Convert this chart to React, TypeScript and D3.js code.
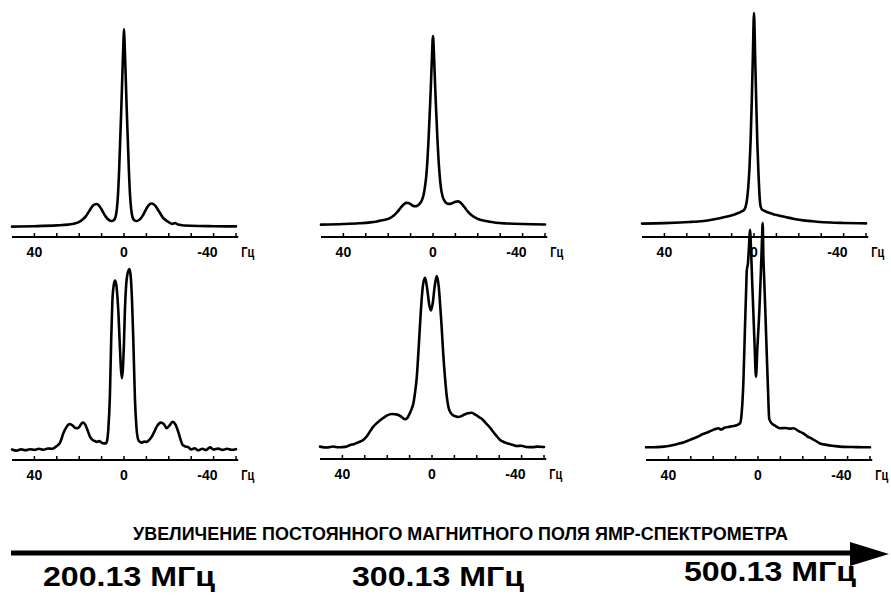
import React from 'react';
import * as d3 from 'd3';

// ---- axis ----
const tickValues = [40, 30, 20, 10, 0, -10, -20, -30, -40, -50];
const labelValues = [40, 0, -40];
const unitLabel = 'Гц';
const title = 'УВЕЛИЧЕНИЕ ПОСТОЯННОГО МАГНИТНОГО ПОЛЯ ЯМР-СПЕКТРОМЕТРА';
const fieldLabels = ['200.13 МГц', '300.13 МГц', '500.13 МГц'];

// ---- spectra: [Hz, relative intensity %] ----
const spec200a: [number, number][] = [
  [50, 0.2], [40, 0.4], [30, 0.8], [25, 1.2], [22, 1.8], [20, 2.6], [18.5, 3.8], [17, 5.5], [16, 7.2], [15, 9],
  [14, 10.6], [13, 11.4], [12.3, 11.6], [11.5, 11.2], [10.5, 9.8], [9.5, 7.8], [8.5, 5.8], [7.5, 4.3], [6.5, 3.4],
  [5.5, 3.0], [4.5, 3.5], [3.8, 5], [3.2, 9], [2.7, 16], [2.2, 28], [1.7, 44], [1.2, 60], [0.7, 78], [0.3, 92], [0, 100],
  [-0.3, 92], [-0.7, 78], [-1.2, 60], [-1.7, 44], [-2.2, 28], [-2.7, 16], [-3.2, 9], [-3.8, 5], [-4.5, 3.5], [-5.5, 3.0],
  [-6.5, 3.4], [-7.5, 4.4], [-8.5, 6], [-9.5, 8.2], [-10.5, 10.2], [-11.5, 11.6], [-12.4, 11.9], [-13.2, 11.5],
  [-14.2, 10.4], [-15.2, 8.6], [-16.2, 6.8], [-17.2, 5], [-18.7, 3.4], [-20, 2.4], [-21.5, 1.6], [-22.8, 2.0],
  [-24, 1.3], [-30, 0.6], [-40, 0.4], [-50, 0.3],
];
const spec300a: [number, number][] = [
  [50, 0.2], [40, 0.5], [33, 0.9], [28, 1.4], [25, 1.9], [22, 2.6], [19.5, 3.5], [17.5, 5], [16, 6.8], [14.5, 9],
  [13, 11], [12, 11.7], [11, 11.6], [10, 11], [9, 10.2], [8, 9.9], [7, 10.2], [6, 11.2], [5, 13], [4.2, 16], [3.5, 21],
  [3, 26], [2.5, 34], [2, 45], [1.5, 58], [1, 72], [0.5, 88], [0, 100], [-0.5, 88], [-1, 72], [-1.5, 58], [-2, 45],
  [-2.5, 34], [-3, 26], [-3.5, 20], [-4.2, 15.5], [-5, 13], [-6, 11.6], [-7, 11.2], [-8, 11.3], [-9, 11.8], [-10, 12.3],
  [-11.3, 12.5], [-12.5, 11.6], [-14, 9.5], [-15.5, 7.2], [-17, 5.4], [-19.5, 3.5], [-22, 2.5], [-25, 1.8], [-28, 1.2],
  [-33, 0.8], [-40, 0.5], [-50, 0.3],
];
const spec500a: [number, number][] = [
  [50, 0.2], [40, 0.4], [33, 0.7], [28, 1.0], [25, 1.2], [20, 1.8], [15.3, 2.7], [12, 3.5], [9, 4.4], [7, 5.2],
  [5.5, 6], [4.5, 6.6], [3.8, 8], [3.2, 11], [2.6, 17], [2, 27], [1.5, 40], [1, 58], [0.5, 80], [0, 100], [-0.5, 80],
  [-1, 58], [-1.5, 38], [-2, 24], [-2.5, 13], [-2.9, 8.5], [-3.5, 7], [-4.5, 6.3], [-6, 5.6], [-8, 4.9], [-10, 4.3],
  [-12, 3.8], [-14.5, 3.2], [-18, 2.4], [-22, 1.7], [-28, 1.1], [-34, 0.7], [-40, 0.5], [-50, 0.3],
];
const spec200b: [number, number][] = [
  [50, 0.8], [48, 0.2], [46, 0.9], [44, 0.4], [42, 1.0], [40, 0.6], [38, 1.2], [36, 0.7], [34, 1.4], [32, 1.2],
  [30.4, 2.4], [29.5, 3.2], [28.6, 4.5], [27.8, 7], [27.1, 9.7], [26.2, 12], [25.2, 14], [24.4, 14.8], [23.5, 14.5],
  [22.5, 13.5], [21.6, 12.6], [20.8, 12.5], [20, 13.2], [19, 15], [18.2, 15.6], [17.3, 14.5], [16.3, 11.5], [15.2, 7.9],
  [14, 6], [13, 5.5], [12.2, 5], [11, 5.4], [10, 4.6], [9, 4.2], [8, 4.2], [7.5, 6], [7, 12], [6.3, 30], [5.7, 62],
  [5.2, 82], [4.6, 91], [4, 93.6], [3.4, 91], [2.9, 84], [2.5, 76], [2, 62], [1.5, 48], [1, 40], [0.5, 45], [0, 60],
  [-0.4, 77], [-0.9, 90], [-1.5, 97], [-2.4, 100], [-3, 96], [-3.6, 82], [-4.2, 59], [-4.9, 28], [-5.5, 14], [-6.4, 6],
  [-7.1, 5], [-8, 4.6], [-9, 5.2], [-10.1, 5], [-11.2, 6], [-12.4, 7.9], [-13.5, 10.5], [-14.8, 13.8], [-16.5, 15.6],
  [-17.8, 14.8], [-19, 12.5], [-20.3, 14], [-21.7, 16], [-23, 14.5], [-24.2, 10.6], [-25.2, 6.5], [-26.2, 3.3],
  [-27.5, 2.5], [-28.8, 2], [-30, 0.8], [-31.5, 1.5], [-33, 0.4], [-35, 1.2], [-36.5, 0.5], [-38.4, 2], [-40, 0.8],
  [-42, 1.3], [-44, 0.6], [-46, 1.2], [-48, 0.7], [-50, 1.0],
];
const spec300b: [number, number][] = [
  [50, 0.8], [47, 0.3], [44, 0.9], [42, 0.4], [40, 0.5], [38, 0.9], [36.5, 1.8], [35, 2.2], [33.5, 3], [32, 3.8],
  [30.7, 4.7], [29, 7], [27.5, 10], [26.2, 12.4], [24.5, 14.6], [23, 16.3], [21.7, 17.5], [20, 19], [18, 19.8],
  [16.5, 19.6], [15, 19.2], [13.5, 18], [12, 16.7], [11, 17.5], [10, 20], [9, 23], [8.3, 26], [7.5, 33], [6.8, 41],
  [6.1, 55], [5.4, 70.5], [4.7, 85], [4, 95], [3.1, 99], [2.2, 93], [1.2, 83], [0.45, 80], [-0.3, 84], [-1.2, 94],
  [-2.1, 100], [-3, 94], [-3.6, 84], [-4.3, 70.5], [-5, 55], [-5.8, 41], [-6.5, 31], [-7.3, 24], [-8.3, 20.5],
  [-9.5, 19], [-10.5, 18.5], [-11.7, 18], [-13, 18.5], [-14.5, 19.5], [-16, 20.2], [-17.7, 20.5], [-19.5, 19.2],
  [-21, 18], [-22.2, 17], [-24, 14.5], [-25.5, 12.5], [-26.7, 10.5], [-28.5, 7.5], [-30.4, 4.7], [-32, 3.5],
  [-34, 2.6], [-36.3, 1.7], [-38, 1.2], [-40, 1.3], [-42, 0.6], [-45, 0.5], [-47, 0.8], [-50, 0.6],
];
const spec500b: [number, number][] = [
  [50, 0.3], [45, 0.4], [42, 0.6], [39.3, 1], [36, 1.8], [33, 2.6], [30.4, 3.6], [27, 5], [24.5, 6.2], [22.9, 6.8],
  [21, 7.6], [19, 8.4], [17.7, 8.8], [16.5, 8.2], [15, 9], [12.5, 9.5], [10, 10], [8, 11], [7.3, 15.4], [6.5, 30],
  [5.8, 54], [5.3, 70], [5, 79], [4.5, 82], [4, 90], [3.6, 97], [3.1, 88], [2.6, 74], [2.1, 61], [1.5, 45], [0.9, 31.7],
  [0.3, 44], [-0.6, 61], [-1.2, 76], [-1.7, 90], [-2.1, 100], [-2.4, 85], [-2.7, 77], [-3.3, 60], [-3.9, 42],
  [-4.5, 25], [-5, 13], [-6.1, 11], [-7.5, 10], [-9.8, 8.8], [-12, 8.9], [-14, 8.6], [-15.8, 8.8], [-18, 7.6],
  [-20.2, 6.5], [-22, 5.2], [-24, 4.2], [-26, 3], [-27.7, 2], [-30, 1.5], [-34, 0.9], [-38, 0.5], [-44, 0.4], [-50, 0.3],
];

const spectra = [spec200a, spec300a, spec500a, spec200b, spec300b, spec500b];

// ---- layout (pixel positions per panel) ----
const layout = [
  { zeroX: 124, axisY: 237, base: 227, top: 29 },
  { zeroX: 433, axisY: 237, base: 225, top: 36 },
  { zeroX: 754, axisY: 237, base: 224, top: 13 },
  { zeroX: 124, axisY: 460, base: 451, top: 269 },
  { zeroX: 432, axisY: 459, base: 448, top: 276 },
  { zeroX: 758, axisY: 460, base: 448, top: 223 },
];
const PX_PER_HZ = 2.24;
const FONT = "'Liberation Sans', Arial, Helvetica, sans-serif";
const NARROW = "'Liberation Sans Narrow', 'Arial Narrow', 'Liberation Sans', Arial, sans-serif";

function Panel({ data, lay }: { data: [number, number][]; lay: typeof layout[number] }) {
  const x = d3.scaleLinear().domain([0, -1]).range([lay.zeroX, lay.zeroX + PX_PER_HZ]);
  const y = d3.scaleLinear().domain([0, 100]).range([lay.base, lay.top]);
  const line = d3
    .line<[number, number]>()
    .x((d) => x(d[0]))
    .y((d) => y(d[1]))
    .curve(d3.curveMonotoneX);
  const ay = lay.axisY;
  return (
    <g>
      <path d={line(data) || ''} fill="none" stroke="#000" strokeWidth={2.6} strokeLinejoin="round" strokeLinecap="round" />
      <line x1={x(50)} x2={x(-51)} y1={ay} y2={ay} stroke="#000" strokeWidth={2} />
      {tickValues.map((t) => (
        <line key={t} x1={x(t)} x2={x(t)} y1={ay} y2={ay - 4} stroke="#000" strokeWidth={1.5} />
      ))}
      {labelValues.map((t) => (
        <text
          key={t}
          x={t < 0 ? x(t) + 4 : x(t)}
          y={ay + 20}
          textAnchor={t < 0 ? 'end' : 'middle'}
          fontFamily={FONT}
          fontWeight="bold"
          fontSize={14}
        >
          {t}
        </text>
      ))}
      <text x={x(-51) + 3} y={ay + 20} fontFamily={NARROW} fontWeight="bold" fontSize={14} textLength={13} lengthAdjust="spacingAndGlyphs">
        {unitLabel}
      </text>
    </g>
  );
}

export default function App() {
  const labelX = [43, 352, 684];
  const labelY = [586, 586, 581];
  return (
    <svg width={891} height={595} style={{ position: 'absolute', left: 0, top: 0, background: '#fff' }}>
      <rect width={891} height={595} fill="#fff" />
      {spectra.map((s, i) => (
        <Panel key={i} data={s} lay={layout[i]} />
      ))}
      <text x={133} y={540} fontFamily={NARROW} fontWeight="bold" fontSize={18} textLength={655} lengthAdjust="spacingAndGlyphs">
        {title}
      </text>
      <line x1={11} x2={855} y1={553} y2={553} stroke="#000" strokeWidth={5} />
      <path d="M850,542 L889,554 L850,566 Z" fill="#000" />
      {fieldLabels.map((l, i) => (
        <text key={l} x={labelX[i]} y={labelY[i]} fontFamily={FONT} fontWeight="bold" fontSize={28} textLength={172} lengthAdjust="spacingAndGlyphs">
          {l}
        </text>
      ))}
    </svg>
  );
}
